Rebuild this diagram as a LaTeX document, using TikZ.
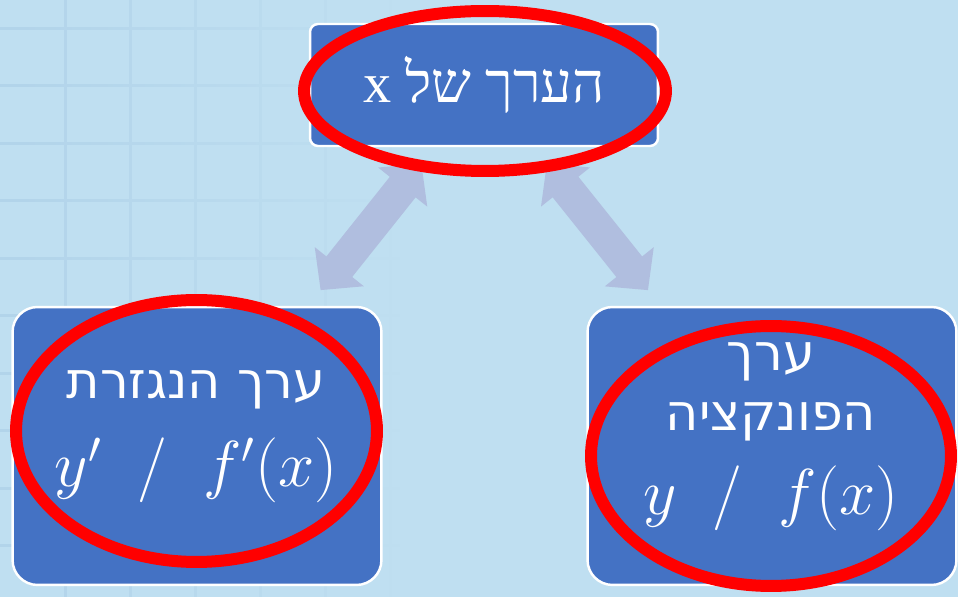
\RequirePackage{fix-cm}
\documentclass[tikz,border=0pt]{standalone}
\usepackage{fontspec}
\newfontfamily\hebserif[Script=Hebrew]{Liberation Serif}
\newfontfamily\hebsans[Script=Hebrew]{DejaVu Sans}
\TeXXeTstate=1
\usetikzlibrary{arrows.meta,shapes.geometric,fadings}

\definecolor{slidebg}{RGB}{191,223,241}
\definecolor{gridblue}{RGB}{178,212,234}
\definecolor{boxblue}{RGB}{68,114,196}
\definecolor{arrowlav}{RGB}{176,190,223}
\definecolor{markred}{RGB}{255,0,0}
\tikzfading[name=gridfade, left color=transparent!0, right color=transparent!100]

\newcommand\mathsize{\fontsize{37}{44}\selectfont}

\begin{document}
\begin{tikzpicture}[
  x=0.02cm, y=-0.02cm,
  box/.style={
    draw=white, line width=1.4pt, fill=boxblue,
    text=white, align=center, inner sep=0pt
  },
  topbox/.style ={box, rounded corners=0.16cm, minimum width=6.96cm, minimum height=2.44cm,
                  font=\hebserif\fontsize{32}{38}\selectfont},
  lowbox/.style ={box, rounded corners=0.5cm, minimum width=7.38cm, minimum height=5.56cm},
  lowtext/.style={text=white, align=center, inner sep=0pt, font=\hebsans\fontsize{29}{34}\selectfont},
  ring/.style   ={ellipse, draw=markred, line width=0.24cm, inner sep=0pt},
  link/.style   ={draw=arrowlav, line width=0.66cm,
                  {Triangle[width=1.22cm, length=0.6cm]}-{Triangle[width=1.22cm, length=0.6cm]},
                  shorten <=0.42cm, shorten >=0.4cm},
  gridline/.style={draw=gridblue, line width=0.06cm}
]

% =================== BACKGROUND ===================
\fill[slidebg] (0,0) rectangle (958,597);
\useasboundingbox (0,0) rectangle (958,597);
\draw[gridline, path fading=gridfade]
  \foreach \gx in {65,130,...,390} { (\gx,0) -- (\gx,597) }
  \foreach \gy in {0,...,9} { (0,{28+57.5*\gy}) -- (400,{28+57.5*\gy}) };

% =================== BOXES ===================
\node[topbox] (xval)  at (484,85)  {\beginR הערך של x\endR};
\node[lowbox] (deriv) at (197,446) {};
\node[lowbox] (func)  at (772,446) {};

% =================== ARROWS ===================
\draw[link] (xval) -- (deriv);
\draw[link] (xval) -- (func);

% =================== TEXTS ===================
\node[lowtext] (derivtext) at (196,437) {\beginR ערך הנגזרת\endR\\[16pt] {\mathsize$y'\;\;/\;\;f'(x)$}};
\node[lowtext] (functext)  at (771,437) {\beginR ערך\endR\\\beginR הפונקציה\endR\\[14pt] {\mathsize$y\;\;/\;\;f(x)$}};

% =================== RED MARKS ===================
\node[ring, minimum width=7.24cm, minimum height=3.2cm]  (xring)     at (485,91)    {};
\node[ring, minimum width=7.22cm, minimum height=5.24cm] (derivring) at (196.5,431) {};
\node[ring, minimum width=7.2cm,  minimum height=5.2cm]  (funcring)  at (771,456)   {};

\end{tikzpicture}
\end{document}
